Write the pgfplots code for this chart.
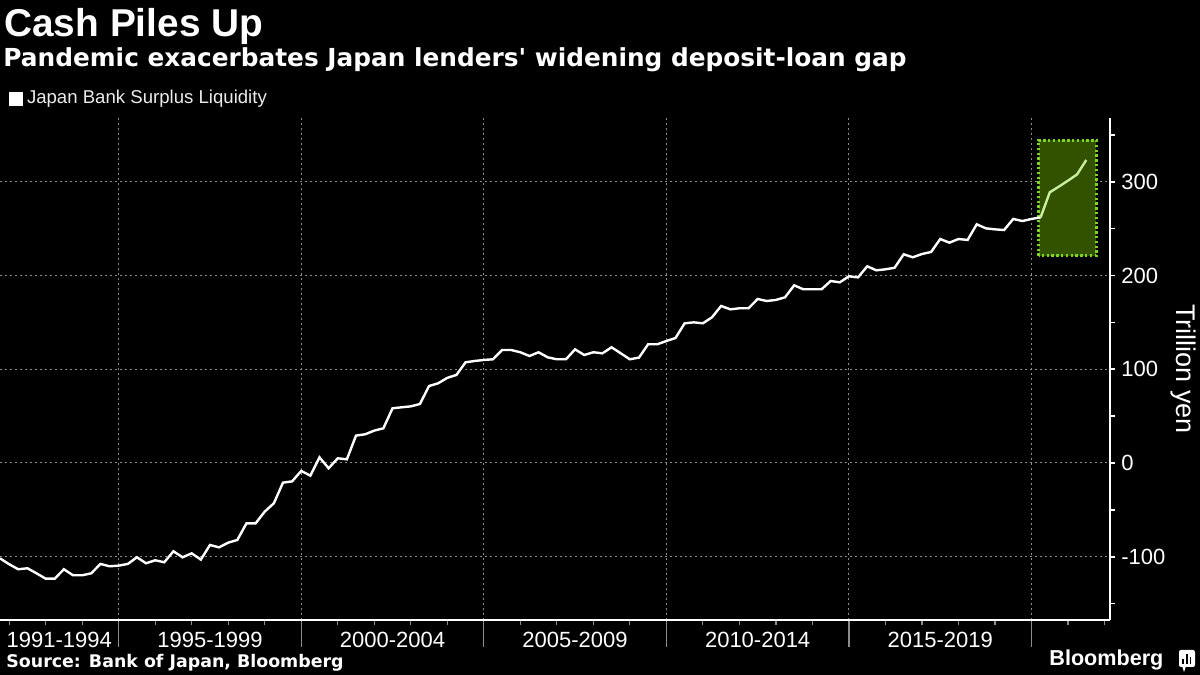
\documentclass[border=0pt]{standalone}
\usepackage{pgfplots}
\pgfplotsset{compat=1.18}
\usepackage{pgfplotstable}
\usepackage{fontspec}
\setmainfont{Liberation Sans}
\newfontfamily\dejavu{DejaVu Sans}
\definecolor{boxfill}{HTML}{335200}
\definecolor{boxedge}{HTML}{7FD320}
\definecolor{hiline}{HTML}{C8EEA0}
\definecolor{gridgray}{HTML}{8C8C8C}
\pgfplotstableread{
i v
0 -101.7
1 -108
2 -113.4
3 -112.3
4 -117.7
5 -123.4
6 -123.4
7 -113.4
8 -119.8
9 -119.8
10 -117.7
11 -107.7
12 -110.2
13 -109.5
14 -107.7
15 -100.6
16 -107
17 -103.8
18 -105.9
19 -94.2
20 -100.6
21 -96.4
22 -103.1
23 -87.5
24 -90
25 -85
26 -82.1
27 -64.4
28 -64.4
29 -51.9
30 -43
31 -21
32 -19.6
33 -8.5
34 -13.5
35 6
36 -5.7
37 5
38 3.9
39 29.2
40 30.6
41 34.5
42 37
43 58.3
44 59.4
45 60.4
46 62.9
47 82.1
48 85
49 90.8
50 93.9
51 107.4
52 108.8
53 109.9
54 110.6
55 120.5
56 120.5
57 118.1
58 114.1
59 118.1
60 112.7
61 110.6
62 110.6
63 121.2
64 115.2
65 118.1
66 117
67 123.4
68 117
69 110.6
70 112.4
71 126.6
72 126.6
73 130.1
74 133.3
75 149
76 150
77 149
78 155.4
79 167.5
80 163.9
81 165
82 165
83 174.9
84 172.8
85 173.9
86 176.7
87 189.5
88 185.3
89 185.3
90 185.3
91 194.1
92 192.7
93 199.1
94 198
95 209.8
96 205.5
97 206.6
98 208.2
99 222.6
100 219.4
101 222.9
102 225.1
103 238.9
104 235
105 238.9
106 237.9
107 254.6
108 250.3
109 249.2
110 248.5
111 260.3
112 258.1
113 260.3
114 262.0
}\mainseries
\pgfplotstableread{
i v
114 262.0
115 288.7
116 294.8
117 301.2
118 307.9
119 323.2
}\pandemic
\begin{document}
\begin{tikzpicture}
\fill[black] (0,0) rectangle (600pt,337.5pt);
\useasboundingbox (0,0) rectangle (600pt,337.5pt);
\begin{axis}[
  at={(0pt,27.5pt)}, anchor=south west,
  scale only axis, width=555pt, height=251pt,
  xmin=0, xmax=121.6, ymin=-167.5, ymax=368,
  axis x line*=bottom, axis y line*=right,
  axis line style={white, line width=1pt},
  tick align=outside,
  major tick length=2.5pt, minor tick length=2.5pt,
  xtick={13,33,53,73,93,113},
  xticklabels={},
  xtick style={gridgray, line width=0.6pt, /pgfplots/major tick length=13.5pt},
  minor xtick={1,5,9,17,21,25,29,37,41,45,49,57,61,65,69,77,81,85,89,97,101,105,109,117,121},
  minor tick style={white, line width=0.8pt},
  extra x ticks={6.5,23,43,63,83,103},
  extra x tick labels={1991-1994,1995-1999,2000-2004,2005-2009,2010-2014,2015-2019},
  extra x tick style={grid=none, xtick style={draw=none}},
  ytick={-100,0,100,200,300},
  yticklabels={-100,0,100,200,300},
  minor ytick={-150,-50,50,150,250,350},
  ytick style={white, line width=0.8pt},
  xmajorgrids, ymajorgrids,
  grid style={gridgray, line width=0.5pt, dash pattern=on 1pt off 1.5pt},
  tick label style={font=\fontsize{11}{13}\selectfont, text=white},
  xticklabel style={anchor=north, inner sep=0pt, yshift=-3.5pt},
  yticklabel style={anchor=west, inner sep=0pt, xshift=3pt},
  ylabel={Trillion yen},
  every axis y label/.style={at={(rel axis cs:1.0658,0.5)}, anchor=center, rotate=-90, font=\fontsize{13.5}{16}\selectfont, text=white},
  legend style={at={(axis description cs:0,1)}, anchor=south west, draw=none, fill=none, text=white!92!black, font=\fontsize{9.3}{11}\selectfont, inner sep=0pt, outer sep=0pt, xshift=4.5pt, yshift=3.5pt},
  legend cell align=left,
  legend image code/.code={\fill[white] (0pt,-2.9pt) rectangle (5.8pt,2.9pt);},
]
\draw[boxedge, fill=boxfill, line width=1.5pt, dash pattern=on 1.2pt off 1.2pt] (axis cs:113.77,221) rectangle (axis cs:120.12,344);
\addplot[white, line width=1.2pt] table[x=i,y=v] {\mainseries};
\addlegendentry{Japan Bank Surplus Liquidity}
\addplot[hiline, line width=1.2pt, forget plot] table[x=i,y=v] {\pandemic};
\end{axis}
\node[anchor=base west, inner sep=0pt, text=white, font=\fontsize{19.4}{22}\selectfont\bfseries] at (2pt,319pt) {Cash Piles Up};
\node[anchor=base west, inner sep=0pt, text=white, font=\dejavu\fontsize{12.4}{14}\selectfont\bfseries] at (1.5pt,304.2pt) {Pandemic exacerbates Japan lenders' widening deposit-loan gap};
\node[anchor=base west, inner sep=0pt, text=white, font=\dejavu\fontsize{8.7}{10}\selectfont\bfseries] at (3pt,3.7pt) {Source: Bank of Japan, Bloomberg};
\node[anchor=base west, inner sep=0pt, text=white, font=\fontsize{10.8}{12}\selectfont\bfseries] at (524.5pt,5pt) {Bloomberg};
\fill[white, rounded corners=1pt] (589.5pt,4pt) rectangle (597.5pt,12.5pt);
\fill[white] (591pt,4.5pt) -- (592pt,1.5pt) -- (593pt,4.5pt) -- cycle;
\fill[black] (591.2pt,5.5pt) rectangle (592.1pt,8pt);
\fill[black] (593pt,5.5pt) rectangle (593.9pt,10.5pt);
\fill[black] (594.8pt,5.5pt) rectangle (595.7pt,9pt);
\end{tikzpicture}
\end{document}
